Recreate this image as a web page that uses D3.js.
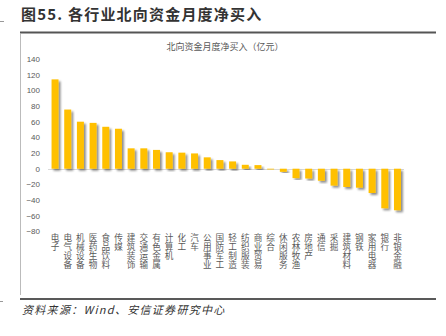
<!DOCTYPE html>
<html><head><meta charset="utf-8">
<script src="https://cdn.jsdelivr.net/npm/d3@7"></script>
<style>
html,body{margin:0;padding:0;background:#fff;}
svg{display:block;font-family:"Noto Sans CJK SC","Noto Sans",sans-serif;}
.vl{writing-mode:vertical-rl;text-orientation:upright;}
</style></head>
<body>
<svg id="c" width="446" height="336"></svg>
<script>
const categories = ["电子","电气设备","机械设备","医药生物","食品饮料","传媒","建筑装饰","交通运输","有色金属","计算机","化工","汽车","公用事业","国防军工","轻工制造","纺织服装","商业贸易","综合","休闲服务","农林牧渔","房地产","通信","采掘","建筑材料","钢铁","家用电器","银行","非银金融"];
const values = [114, 75.5, 60, 58.5, 53.5, 51, 26, 26, 24, 21, 20.5, 19.5, 14.5, 11, 9.3, 5, 4.6, -1, -4, -12, -12.5, -15.3, -21.6, -23.3, -24.2, -31, -50.5, -53];
const yTicks = [140,120,100,80,60,40,20,0,-20,-40,-60,-80];
const figTitle = "图55. 各行业北向资金月度净买入";
const chartTitle = "北向资金月度净买入（亿元）";
const source = "资料来源：Wind、安信证券研究中心";

const svg = d3.select("#c");
const defs = svg.append("defs");
const f = defs.append("filter").attr("id","sh").attr("x","-50%").attr("y","-20%").attr("width","200%").attr("height","140%");
f.append("feGaussianBlur").attr("in","SourceAlpha").attr("stdDeviation",1.1).attr("result","b");
f.append("feOffset").attr("in","b").attr("dx",2).attr("dy",2).attr("result","o");
f.append("feComponentTransfer").attr("in","o").attr("result","o2").append("feFuncA").attr("type","linear").attr("slope",0.45);
const m = f.append("feMerge"); m.append("feMergeNode").attr("in","o2"); m.append("feMergeNode").attr("in","SourceGraphic");

// header
svg.append("text").attr("x",21).attr("y",20).attr("font-size",15).attr("font-weight","bold")
  .attr("fill","#333").attr("letter-spacing",1.2).text(figTitle);
svg.append("line").attr("x1",20).attr("x2",436).attr("y1",32.5).attr("y2",32.5).attr("stroke","#555").attr("stroke-width",2);
svg.append("line").attr("x1",20.5).attr("x2",20.5).attr("y1",34).attr("y2",295).attr("stroke","#bbb").attr("stroke-width",1);
svg.append("line").attr("x1",0).attr("x2",4).attr("y1",21.5).attr("y2",21.5).attr("stroke","#999");
svg.append("line").attr("x1",0).attr("x2",3).attr("y1",301.5).attr("y2",301.5).attr("stroke","#999");
svg.append("line").attr("x1",20).attr("x2",436).attr("y1",299).attr("y2",299).attr("stroke","#222").attr("stroke-width",1.5);
svg.append("text").attr("x",22).attr("y",314).attr("font-size",11).attr("font-style","italic")
  .attr("letter-spacing",1.3).attr("fill","#333").text(source);

// chart title
svg.append("text").attr("x",225).attr("y",50).attr("text-anchor","middle").attr("font-size",9)
  .attr("fill","#595959").text(chartTitle);

const x = d3.scaleBand().domain(categories).range([48.7,403.8]).paddingInner(0.45).paddingOuter(0.225);
const y = d3.scaleLinear().domain([-80,140]).range([231.4,59]);

// y axis labels
const ya = svg.append("g").attr("transform","translate(43,0)")
  .call(d3.axisLeft(y).tickValues(yTicks).tickSize(0).tickPadding(3).tickFormat(d3.format("d")));
ya.select(".domain").remove();
ya.selectAll("text").attr("font-size",8).attr("fill","#595959").attr("font-family","'Liberation Sans',Arial,sans-serif");

// zero line
svg.append("line").attr("x1",48).attr("x2",404).attr("y1",Math.round(y(0))+0.5).attr("y2",Math.round(y(0))+0.5)
  .attr("stroke","#d9d9d9").attr("stroke-width",1);

// bars
svg.append("g").selectAll("rect").data(values).join("rect")
  .attr("x",(d,i)=>x(categories[i]))
  .attr("width",x.bandwidth())
  .attr("y",d=>y(Math.max(0,d)))
  .attr("height",d=>Math.max(0.6,Math.abs(y(d)-y(0))))
  .attr("fill","#FFC000")
  .attr("filter","url(#sh)");

// x labels vertical
svg.append("g").selectAll("text").data(categories).join("text")
  .attr("class","vl")
  .attr("x",d=>x(d)+x.bandwidth()/2)
  .attr("y",233)
  .attr("font-size",8.6)
  .attr("letter-spacing",0.6)
  .attr("fill","#595959")
  .text(d=>d);
</script>
</body></html>
